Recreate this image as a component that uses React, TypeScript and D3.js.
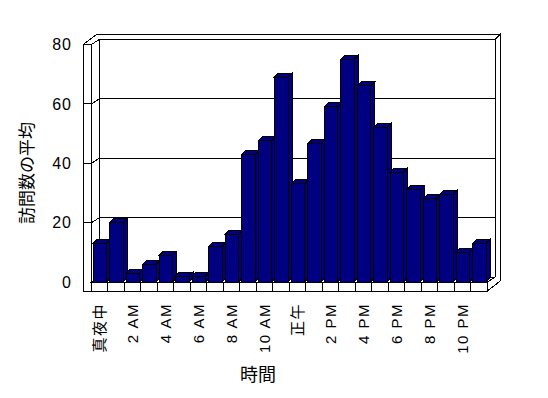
import React, { useEffect, useRef } from 'react'
import * as d3 from 'd3'

// 時間帯ごとの訪問数の平均
const hours = [
    '真夜中', '1 AM', '2 AM', '3 AM', '4 AM', '5 AM', '6 AM', '7 AM', '8 AM', '9 AM', '10 AM', '11 AM',
    '正午', '1 PM', '2 PM', '3 PM', '4 PM', '5 PM', '6 PM', '7 PM', '8 PM', '9 PM', '10 PM', '11 PM'
]
const visits = [13, 20, 3, 6, 9, 2, 2, 12, 16, 43, 47.5, 69, 33, 46.5, 59, 75, 66, 52, 37, 31, 28, 29.5, 10, 13]
const yTicks = [0, 20, 40, 60, 80]
const xTitle = '時間'
const yTitle = '訪問数の平均'

const width = 548
const height = 398
const navy = '#000080'

const poly = (pts) => 'M' + pts.map(p => p.join(',')).join('L') + 'Z'

function App() {
    const ref = useRef(null)

    useEffect(() => {
        const svg = d3.select(ref.current)
        svg.selectAll('*').remove()

        const x = d3.scaleBand().domain(hours).range([91.5, 487.3])
        const y = d3.scaleLinear().domain([0, 80]).range([282, 44.4])

        const [x0, x1] = x.range()
        const y0 = y(0), yTop = y(80)
        const dep = [8, -5]      // floor depth up to back wall
        const thk = [5, -5]      // back wall thickness
        const wallW = 8          // left wall thickness
        const floorH = 9         // floor thickness
        const bar = { off: 1.7, w: 13.5, dx: 4, dy: -4 }

        const g = svg.append('g')
            .attr('fill', 'white')
            .attr('stroke', 'black')
            .attr('stroke-width', 1)
            .attr('shape-rendering', 'crispEdges')

        // back wall
        g.append('path').attr('d', poly([
            [x0 + dep[0], yTop + dep[1]], [x1 + dep[0], yTop + dep[1]],
            [x1 + dep[0], y0 + dep[1]], [x0 + dep[0], y0 + dep[1]]
        ]))
        // top of walls
        g.append('path').attr('d', poly([
            [x0 - wallW, yTop], [x0, yTop], [x0 + dep[0], yTop + dep[1]], [x1 + dep[0], yTop + dep[1]],
            [x1 + dep[0] + thk[0], yTop + dep[1] + thk[1]],
            [x0 - wallW + dep[0] + thk[0], yTop + dep[1] + thk[1]]
        ]))
        // right edge of back wall + floor
        g.append('path').attr('d', poly([
            [x1, y0], [x1 + dep[0], y0 + dep[1]], [x1 + dep[0], yTop + dep[1]],
            [x1 + dep[0] + thk[0], yTop + dep[1] + thk[1]],
            [x1 + dep[0] + thk[0], y0 + floorH + dep[1] + thk[1]],
            [x1, y0 + floorH]
        ]))

        // gridlines
        const grid = yTicks.filter(v => v > 0 && v < 80)
        g.selectAll('.grid')
            .data(grid)
            .join('line')
            .attr('class', 'grid')
            .attr('x1', x0 + dep[0]).attr('x2', x1 + dep[0])
            .attr('y1', d => y(d) + dep[1]).attr('y2', d => y(d) + dep[1])

        // left wall
        g.append('path').attr('d', poly([
            [x0, yTop], [x0 + dep[0], yTop + dep[1]], [x0 + dep[0], y0 + dep[1]], [x0, y0]
        ]))
        g.append('rect')
            .attr('x', x0 - wallW).attr('y', yTop)
            .attr('width', wallW).attr('height', y0 + floorH - yTop)
        g.selectAll('.wtick')
            .data(grid)
            .join('path')
            .attr('class', 'wtick')
            .attr('fill', 'none')
            .attr('d', d => `M${x0 - wallW},${y(d)}L${x0},${y(d)}L${x0 + dep[0]},${y(d) + dep[1]}`)

        // floor
        g.append('path').attr('d', poly([
            [x0, y0], [x1, y0], [x1 + dep[0], y0 + dep[1]], [x0 + dep[0], y0 + dep[1]]
        ]))
        g.append('rect')
            .attr('x', x0).attr('y', y0)
            .attr('width', x1 - x0).attr('height', floorH)
        g.selectAll('.div')
            .data(hours.slice(1))
            .join('line')
            .attr('class', 'div')
            .attr('x1', d => x(d)).attr('x2', d => x(d))
            .attr('y1', y0).attr('y2', y0 + floorH)

        // bars
        const bars = g.selectAll('.bar')
            .data(visits)
            .join('g')
            .attr('class', 'bar')
            .attr('fill', navy)

        const bx = i => x(hours[i]) + bar.off
        bars.append('path').attr('d', (d, i) => {
            const a = bx(i) + bar.w, t = y(d)
            return poly([[a, t], [a + bar.dx, t + bar.dy], [a + bar.dx, y0 + bar.dy], [a, y0]])
        })
        bars.append('path').attr('d', (d, i) => {
            const a = bx(i), t = y(d)
            return poly([[a, t], [a + bar.dx, t + bar.dy], [a + bar.w + bar.dx, t + bar.dy], [a + bar.w, t]])
        })
        bars.append('rect')
            .attr('x', (d, i) => bx(i))
            .attr('y', d => y(d))
            .attr('width', bar.w)
            .attr('height', d => y0 - y(d))

        // y axis labels
        svg.append('g')
            .attr('font-family', '"Liberation Sans", sans-serif')
            .attr('font-size', 16)
            .attr('letter-spacing', 1)
            .attr('text-anchor', 'end')
            .selectAll('text')
            .data(yTicks)
            .join('text')
            .attr('x', 72)
            .attr('y', d => y(d))
            .attr('dy', '0.36em')
            .text(d => d)

        // x axis labels
        svg.append('g')
            .attr('font-family', '"Liberation Sans", "Noto Sans CJK JP", sans-serif')
            .attr('font-size', 15)
            .attr('letter-spacing', 1.5)
            .attr('text-anchor', 'end')
            .selectAll('text')
            .data(hours.filter((_d, i) => i % 2 === 0))
            .join('text')
            .attr('transform', d => `translate(${x(d) + x.bandwidth() / 2},${y0 + floorH + 12}) rotate(-90)`)
            .attr('dy', '0.36em')
            .text(d => d)

        // titles
        svg.append('text')
            .attr('transform', 'translate(27,173) rotate(-90)')
            .attr('font-family', '"Noto Sans CJK JP", sans-serif')
            .attr('font-size', 17)
            .attr('text-anchor', 'middle')
            .attr('dy', '0.36em')
            .text(yTitle)

        svg.append('text')
            .attr('x', 258).attr('y', 375)
            .attr('font-family', '"Noto Sans CJK JP", sans-serif')
            .attr('font-size', 18)
            .attr('text-anchor', 'middle')
            .attr('dy', '0.36em')
            .text(xTitle)
    }, [])

    return (
        <svg ref={ref} width={width} height={height}
            style={{ position: 'absolute', left: 0, top: 0, background: 'white' }} />
    )
}

export default App
